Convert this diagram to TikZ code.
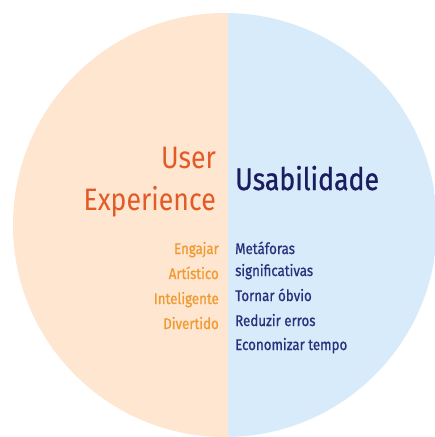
\documentclass[tikz,border=0pt]{standalone}
\usepackage{fontspec}
\usepackage{graphicx}
\setmainfont{Fira Sans}
\newfontfamily\heavyfont{Fira Sans}[FakeBold=1]
\definecolor{uxfill}{HTML}{FEE6D1}
\definecolor{usfill}{HTML}{D8EBFA}
\definecolor{uxtitle}{HTML}{E25A26}
\definecolor{uxitem}{HTML}{F09A30}
\definecolor{ustitle}{HTML}{1C1D60}
\definecolor{usitem}{HTML}{28317C}
% condensed look for every label
\newcommand{\narrow}[1]{\scalebox{0.86}[1]{#1}}
\tikzset{
  bigtitle/.style={inner sep=0pt, font=\fontsize{31}{31}\selectfont},
  uxlist/.style={inner sep=0pt, anchor=base east, text=uxitem, font=\heavyfont\fontsize{15.5}{15.5}\selectfont},
  uslist/.style={inner sep=0pt, anchor=base west, text=usitem, font=\heavyfont\fontsize{15.5}{15.5}\selectfont},
}
\begin{document}
\begin{tikzpicture}[x=1pt,y=-1pt]
  \useasboundingbox (0,0) rectangle (435,437);
  \fill[white] (0,0) rectangle (435,437);
  % the two halves of the disc
  \begin{scope}
    \clip (225,225) circle (212);
    \fill[uxfill] (0,0) rectangle (228,437);
    \fill[usfill] (228,0) rectangle (435,437);
  \end{scope}
  % headings
  \node[bigtitle, anchor=base east, text=uxtitle] (user) at (216,168) {\narrow{User}};
  \node[bigtitle, anchor=base east, text=uxtitle] (exp) at (216,210) {\narrow{Experience}};
  \node[bigtitle, anchor=base west, text=ustitle, font=\heavyfont\fontsize{31}{31}\selectfont] (usab) at (235,190) {\narrow{Usabilidade}};
  % user experience qualities
  \node[uxlist] (engajar) at (219,254) {\narrow{Engajar}};
  \node[uxlist] (artistico) at (219,279) {\narrow{Artístico}};
  \node[uxlist] (inteligente) at (219,304) {\narrow{Inteligente}};
  \node[uxlist] (divertido) at (219,329) {\narrow{Divertido}};
  % usability goals
  \node[uslist] (metaforas) at (235,254) {\narrow{Metáforas}};
  \node[uslist] (signif) at (235,276) {\narrow{significativas}};
  \node[uslist] (obvio) at (235,301) {\narrow{Tornar óbvio}};
  \node[uslist] (erros) at (235,326) {\narrow{Reduzir erros}};
  \node[uslist] (tempo) at (235,350) {\narrow{Economizar tempo}};
\end{tikzpicture}
\end{document}
